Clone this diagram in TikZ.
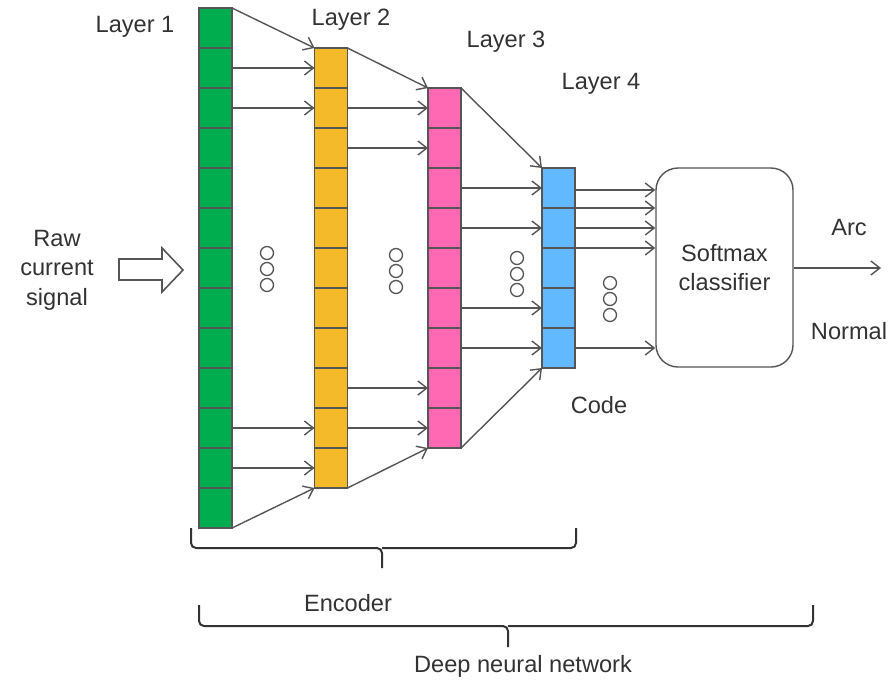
\documentclass[tikz,border=0pt]{standalone}
\usepackage{fontspec}
\setmainfont{Liberation Sans}
\usetikzlibrary{arrows.meta,calc}
\definecolor{lc}{HTML}{555555}
\definecolor{txt}{HTML}{333333}
\definecolor{cgreen}{HTML}{00AD4E}
\definecolor{cyellow}{HTML}{F5BA2A}
\definecolor{cpink}{HTML}{FF69B4}
\definecolor{cblue}{HTML}{63B9FF}
\begin{document}
\begin{tikzpicture}[x=1pt,y=-1pt,
  cell/.style={draw=lc, line width=1.4pt, minimum width=33pt, minimum height=40pt, inner sep=0pt, outer sep=0pt},
  conn/.style={draw=lc, line width=1.4pt, -{Straight Barb[length=9pt,width=14pt,line width=1.4pt]}},
  lbl/.style={text=txt, font=\fontsize{23.6}{29.5}\selectfont, align=center, inner sep=0pt},
  dotc/.style={draw=lc, line width=1.3pt, circle, minimum size=13pt, inner sep=0pt},
  bracepath/.style={draw=txt, line width=2pt, rounded corners=5pt}]
\useasboundingbox (0,0) rectangle (893,683);
% layers
\foreach \i in {1,...,13} \node[cell, fill=cgreen] (L1-\i) at (215.5, {8+40*\i-20}) {};
\foreach \i in {1,...,11} \node[cell, fill=cyellow] (L2-\i) at (331, {48+40*\i-20}) {};
\foreach \i in {1,...,9} \node[cell, fill=cpink] (L3-\i) at (444.5, {88+40*\i-20}) {};
\foreach \i in {1,...,5} \node[cell, fill=cblue] (L4-\i) at (558.5, {168+40*\i-20}) {};
% softmax
\node[lbl, draw=lc, line width=1.4pt, rounded corners=22pt, minimum width=137pt, minimum height=199pt] (soft) at (724.5,267.5) {Softmax\\classifier};
% labels
\node[lbl] (t1) at (135,27) {Layer 1};
\node[lbl] (t2) at (351,20) {Layer 2};
\node[lbl] (t3) at (506,42) {Layer 3};
\node[lbl] (t4) at (601,84) {Layer 4};
\node[lbl] (raw) at (57,270) {Raw\\current\\signal};
\node[lbl] (code) at (599,405) {Code};
\node[lbl] (arc) at (849,227) {Arc};
\node[lbl] (normal) at (849,331) {Normal};
\node[lbl] (enc) at (348,603) {Encoder};
\node[lbl] (dnn) at (523,666) {Deep neural network};
% L1 -> L2
\draw[conn] (L1-1.north east) -- (L2-1.north west);
\draw[conn] (L1-2.east) -- (L2-1.west);
\draw[conn] (L1-3.east) -- (L2-2.west);
\draw[conn] (L1-11.east) -- (L2-10.west);
\draw[conn] (L1-12.east) -- (L2-11.west);
\draw[conn] (L1-13.south east) -- (L2-11.south west);
% L2 -> L3
\draw[conn] (L2-1.north east) -- (L3-1.north west);
\draw[conn] (L2-2.east) -- (L3-1.west);
\draw[conn] (L2-3.east) -- (L3-2.west);
\draw[conn] (L2-9.east) -- (L3-8.west);
\draw[conn] (L2-10.east) -- (L3-9.west);
\draw[conn] (L2-11.south east) -- (L3-9.south west);
% L3 -> L4
\draw[conn] (L3-1.north east) -- (L4-1.north west);
\draw[conn] (L3-3.east) -- (L4-1.west);
\draw[conn] (L3-4.east) -- (L4-2.west);
\draw[conn] (L3-6.east) -- (L4-4.west);
\draw[conn] (L3-7.east) -- (L4-5.west);
\draw[conn] (L3-9.south east) -- (L4-5.south west);
% L4 -> softmax
\coordinate (s1) at ($(L4-1.east)+(0,2)$);
\draw[conn] (s1) -- (s1 -| soft.west);
\draw[conn] (L4-1.south east) -- (L4-1.south east -| soft.west);
\draw[conn] (L4-2.east) -- (L4-2.east -| soft.west);
\draw[conn] (L4-2.south east) -- (L4-2.south east -| soft.west);
\draw[conn] (L4-5.east) -- (L4-5.east -| soft.west);
% output
\coordinate (out) at (881,268);
\draw[conn] (soft.east |- out) -- (out);
% dots
\foreach \x/\y [count=\k] in {267/253, 396/255, 517/258, 610/283}{
  \node[dotc] (da\k) at (\x,\y) {};
  \node[dotc] (db\k) at (\x,\y+16) {};
  \node[dotc] (dc\k) at (\x,\y+32) {};
}
% hollow input arrow
\draw[lc, line width=1.6pt, line join=miter] (119,259) -- (162,259) -- (162,248) -- (183,270) -- (162,292) -- (162,280) -- (119,280) -- cycle;
% braces
\draw[bracepath] (191,528) -- (191,548) -- (382,548) -- (382,568);
\draw[bracepath] (576,528) -- (576,548) -- (382,548);
\draw[bracepath] (199,605) -- (199,626) -- (508,626) -- (508,647);
\draw[bracepath] (813,605) -- (813,626) -- (508,626);
\end{tikzpicture}
\end{document}
